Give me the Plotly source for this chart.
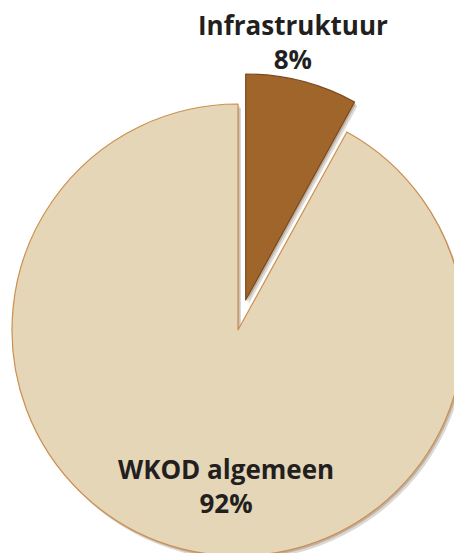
import math
import plotly.graph_objects as go

labels = ["Infrastruktuur", "WKOD algemeen"]
values = [8, 92]
colors = ["#A0652A", "#E5D6B8"]
line_colors = ["#7A4A1C", "#CD8E4E"]
pulled = [0.137, 0.0]

# figure canvas (slightly larger than the window, so the pie is cropped like the original)
W, H = 480, 566
cx, cy, R = 238, 330, 226  # pixel centre / radius of the unpulled pie

def dom(cxp, cyp, r):
    return dict(x=[max(0, (cxp - r) / W), min(1, (cxp + r) / W)],
                y=[max(0, 1 - (cyp + r) / H), min(1, 1 - (cyp - r) / H)])

fig = go.Figure()
total = sum(values)
start = 0.0
for i, (lab, v) in enumerate(zip(labels, values)):
    frac = v / total
    mid = (start + frac / 2) * 2 * math.pi
    start += frac
    dx = pulled[i] * R * math.sin(mid)
    dy = -pulled[i] * R * math.cos(mid)
    vis = [c if j == i else "rgba(0,0,0,0)" for j, c in enumerate(colors)]
    # soft shadow
    for k, (ox, oy, a) in enumerate([(3, 4, 0.18), (1.5, 2, 0.22)]):
        fig.add_trace(go.Pie(
            labels=labels, values=values, sort=False, direction="clockwise", rotation=0,
            marker=dict(colors=[f"rgba(70,40,10,{a})" if j == i else "rgba(0,0,0,0)" for j in range(len(values))],
                        line=dict(width=0)),
            textinfo="none", hoverinfo="skip", showlegend=False,
            domain=dom(cx + dx + ox, cy + dy + oy, R),
        ))
    fig.add_trace(go.Pie(
        labels=labels, values=values, sort=False, direction="clockwise", rotation=0,
        marker=dict(colors=vis,
                    line=dict(width=[1.2 if j == i else 0 for j in range(len(values))],
                              color=[line_colors[j] if j == i else "rgba(0,0,0,0)" for j in range(len(values))])),
        textinfo="none", hoverinfo="label+percent", showlegend=False,
        domain=dom(cx + dx, cy + dy, R),
    ))

font = dict(family="'Open Sans', Lato, sans-serif", size=26, color="#231F20")
pct = [f"{round(100 * v / total)}%" for v in values]
text_pos = [(293, 42.5), (226, 485.5)]
for i in range(len(labels)):
    x1, y1 = text_pos[i]
    fig.add_annotation(x=x1 / W, y=1 - y1 / H, xref="paper", yref="paper",
                       text=f"<b>{labels[i]}</b><br><b>{pct[i]}</b>",
                       showarrow=False, font=font, xanchor="center", yanchor="middle", align="center")

fig.update_layout(width=W, height=H, margin=dict(l=0, r=0, t=0, b=0),
                  paper_bgcolor="white", plot_bgcolor="white")
fig.write_html("out.html", config={"displayModeBar": False},
               post_script="document.body.style.margin='0';"
                           "document.body.style.overflow='hidden';"
                           "document.documentElement.style.overflow='hidden';")
